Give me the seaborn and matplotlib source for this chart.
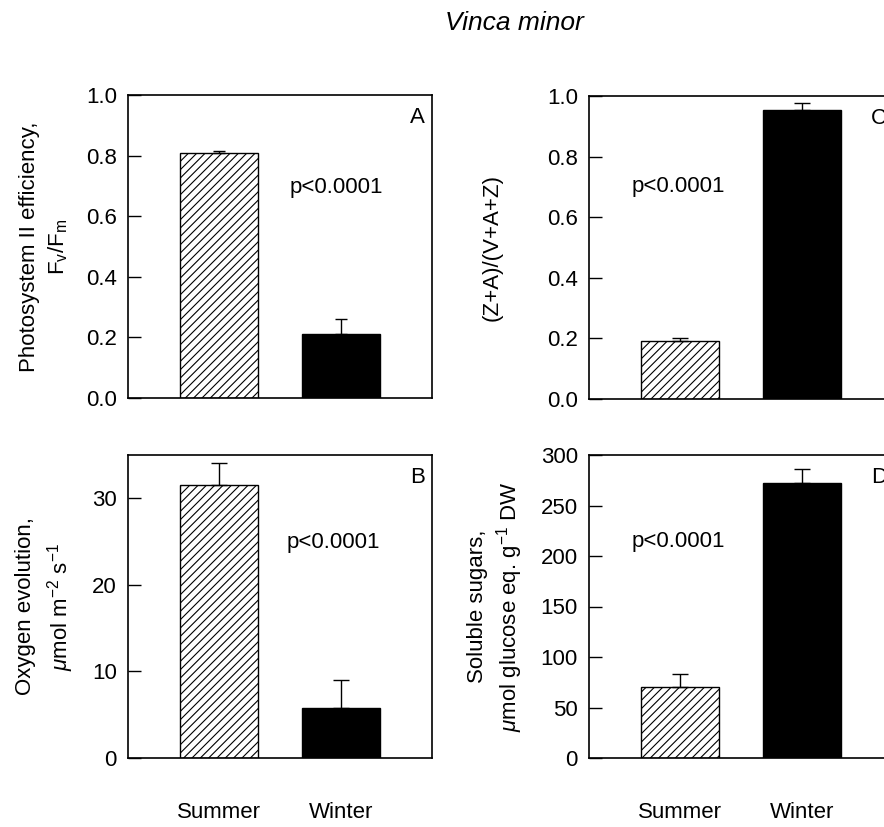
import matplotlib
matplotlib.use("Agg")
import matplotlib.pyplot as plt
import seaborn as sns
import pandas as pd

# ---- data ----
seasons = ["Summer", "Winter"]
fvfm = [0.81, 0.21]
fvfm_err = [0.005, 0.05]
oxygen = [31.5, 5.8]
oxygen_err = [2.6, 3.2]
deps = [0.19, 0.955]
deps_err = [0.01, 0.023]
sugars = [70.5, 272.5]
sugars_err = [13.0, 14.0]
title = "Vinca minor"
p_text = "p<0.0001"

sns.set_theme(style="white")
plt.rcParams["font.family"] = ["Liberation Sans", "DejaVu Sans"]
plt.rcParams["mathtext.fontset"] = "custom"
plt.rcParams["mathtext.rm"] = "Liberation Sans"
plt.rcParams["mathtext.it"] = "Liberation Sans:italic"
plt.rcParams["mathtext.default"] = "regular"
plt.rcParams["hatch.linewidth"] = 0.8
plt.rcParams["axes.edgecolor"] = "black"
for k in ["text.color", "axes.labelcolor", "xtick.color", "ytick.color"]:
    plt.rcParams[k] = "black"

W, H = 884, 827
fig = plt.figure(figsize=(W / 100, H / 100), dpi=100)

def axrect(left, top, right, bottom):
    return [left / W, (H - bottom) / H, (right - left) / W, (bottom - top) / H]

axA = fig.add_axes(axrect(128, 95, 432, 398))
axB = fig.add_axes(axrect(128, 455, 432, 758))
axC = fig.add_axes(axrect(589, 96, 893, 399))
axD = fig.add_axes(axrect(589, 455, 893, 758))

FS = 16

panels = [
    (axA, fvfm, fvfm_err, (0, 1.0), [0, 0.2, 0.4, 0.6, 0.8, 1.0], "{:.1f}",
     "Photosystem II efficiency,\nF$_{\\rm v}$/F$_{\\rm m}$", -0.19, 1.35, "A", (0.53, 0.676), False, 4),
    (axB, oxygen, oxygen_err, (0, 35), [0, 10, 20, 30], "{:.0f}",
     "Oxygen evolution,\n$\\mathit{\\mu}$mol m$^{-2}$ s$^{-1}$", -0.171, 1.4, "B", (0.523, 0.693), True, 5.5),
    (axC, deps, deps_err, (0, 1.0), [0, 0.2, 0.4, 0.6, 0.8, 1.0], "{:.1f}",
     "(Z+A)/(V+A+Z)", -0.283, 1.2, "C", (0.141, 0.684), False, 5.5),
    (axD, sugars, sugars_err, (0, 300), [0, 50, 100, 150, 200, 250, 300], "{:.0f}",
     "Soluble sugars,\n$\\mathit{\\mu}$mol glucose eq. g$^{-1}$ DW", -0.211, 1.25, "D", (0.141, 0.697), True, 5.5),
]

for ax, vals, errs, ylim, yt, fmt, ylabel, lx, ls, letter, ppos, show_x, cap in panels:
    df = pd.DataFrame({"season": seasons, "value": vals})
    sns.barplot(data=df, x="season", y="value", hue="season",
                palette=["white", "black"], legend=False, width=0.64,
                edgecolor="black", linewidth=1.0, ax=ax, zorder=2)
    ax.patches[0].set_hatch("////")
    ax.errorbar([0, 1], vals, yerr=[[0, 0], errs], fmt="none", ecolor="black",
                elinewidth=1.0, capsize=cap, capthick=1.0, zorder=3)
    ax.set_xlim(-0.75, 1.75)
    ax.set_ylim(*ylim)
    ax.set_yticks(yt)
    ax.set_yticklabels([fmt.format(v) for v in yt], fontsize=FS)
    ax.tick_params(axis="y", direction="in", length=9, width=1.0, pad=8,
                   left=True, right=False, colors="black")
    if show_x:
        ax.tick_params(axis="x", length=0, pad=32, labelsize=FS)
    else:
        ax.tick_params(axis="x", length=0, labelbottom=False)
    ax.set_xlabel("")
    ax.set_ylabel(ylabel, fontsize=FS, linespacing=ls)
    ax.yaxis.set_label_coords(lx, 0.5)
    for s in ax.spines.values():
        s.set_visible(True)
        s.set_linewidth(1.2)
        s.set_color("black")
    ax.text(0.928, 0.925, letter, transform=ax.transAxes, fontsize=FS,
            ha="left", va="center")
    ax.text(ppos[0], ppos[1], p_text, transform=ax.transAxes, fontsize=FS,
            ha="left", va="baseline")

fig.text(514 / W, 1 - 23 / H, title, fontsize=19, style="italic",
         ha="center", va="center")

fig.savefig("out.png", dpi=100)
